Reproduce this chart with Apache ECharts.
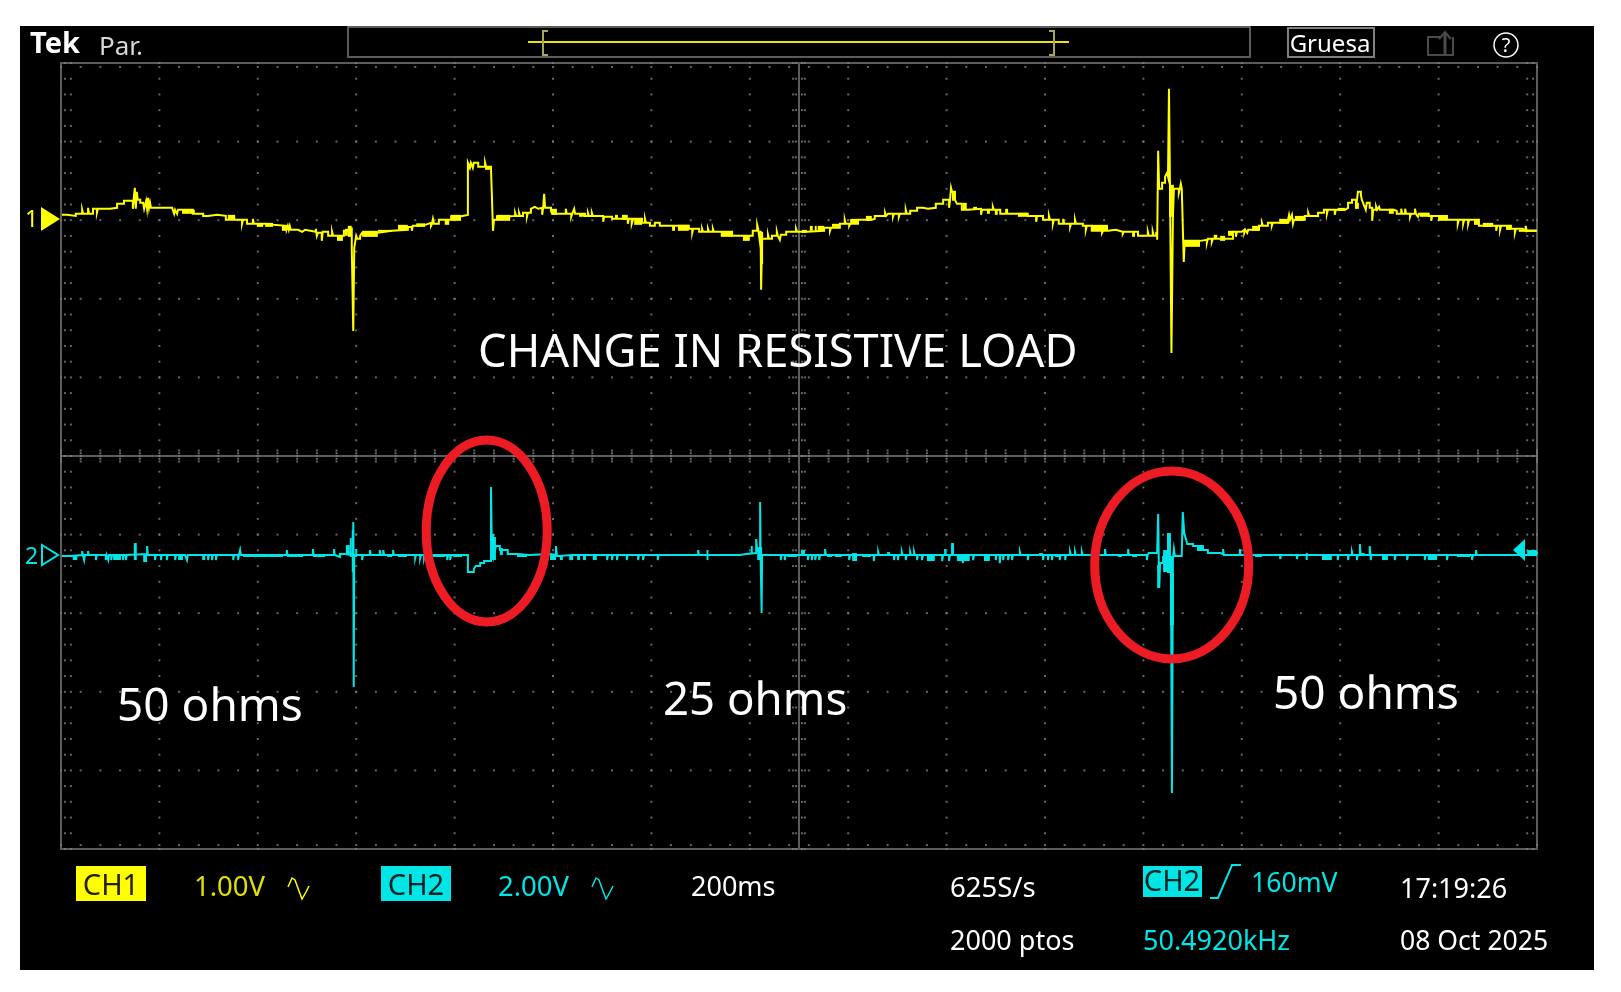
<!DOCTYPE html>
<html>
<head>
<meta charset="utf-8">
<title>Change in resistive load</title>
<script src="https://cdn.jsdelivr.net/npm/echarts@6/dist/echarts.min.js"></script>
<style>
  html, body { margin: 0; padding: 0; background: #fff; }
  #main { width: 1621px; height: 992px; }
</style>
</head>
<body>
<div id="main"></div>
<script>
// scope settings
const traceColor1 = '#ffff00';
const traceColor2 = '#00e5e5';
const gridColor = '#808080';
const msPerDiv = 200;
const voltsPerDiv1 = 1;
const voltsPerDiv2 = 2;
const xDivs = 15;
const yDivs = 10;
const subDivs = 5;

// CH1 [ms, volts], each value is held until the next point
const ch1Trace = [
  [2,.038],[12,.025],[30,.051],[43,.102],[45,.051],[55,.127],[57,.051],[65,.115],[73,.064],[75,.115],
  [100,.102],[102,.127],[114,.178],[128,.216],[146,.115],[148,.254],[150,.382],[152,.115],[154,.331],[156,.229],
  [161,.191],[167,.178],[169,.115],[173,.216],[175,.115],[177,.254],[179,.127],[181,.191],[183,.127],[203,.102],
  [207,.127],[226,.102],[228,.127],[230,.051],[232,.102],[236,.051],[238,.102],[268,.051],[289,.025],[299,.038],
  [317,.025],[335,-.025],[368,-.076],[370,-.025],[378,-.076],[390,-.013],[392,-.076],[415,-.089],[431,-.102],[459,-.14],
  [461,-.102],[463,-.153],[465,-.102],[467,-.153],[482,-.178],[490,-.153],[496,-.178],[518,-.14],[520,-.229],[522,-.191],
  [530,-.293],[532,-.178],[543,-.229],[551,-.178],[553,-.229],[575,-.165],[583,-.14],[591,-.382],[594,-1.438],[596,-.382],
  [600,-.229],[602,-.267],[608,-.229],[612,-.19],[644,-.165],[673,-.153],[705,-.115],[713,-.165],[715,-.102],[722,-.089],
  [740,-.064],[752,-.102],[754,-.076],[756,-.013],[758,-.076],[768,-.025],[780,-.025],[793,.02],[813,.038],[827,.7],
  [831,.636],[833,.7],[837,.636],[839,.7],[848,.649],[862,.7],[864,.649],[874,.611],[876,.242],[878,-.165],
  [880,-.025],[886,.02],[913,.025],[923,.064],[925,.025],[931,.064],[933,.025],[939,.064],[947,.013],[949,.064],
  [955,.115],[959,.14],[963,.115],[970,.127],[978,.038],[980,.127],[982,.305],[984,.127],[996,.089],[998,.051],
  [1026,.115],[1028,.051],[1037,.013],[1039,.051],[1043,.115],[1045,.051],[1065,.025],[1071,.064],[1073,.025],[1079,.064],
  [1081,.025],[1102,-.051],[1104,.013],[1120,-.013],[1152,-.076],[1154,-.013],[1160,-.076],[1163,-.013],[1181,-.064],[1187,-.013],
  [1189,-.064],[1197,-.102],[1207,-.064],[1217,-.102],[1276,-.14],[1283,-.191],[1285,-.14],[1297,-.178],[1303,-.14],[1305,-.178],
  [1315,-.14],[1317,-.178],[1325,-.14],[1327,-.178],[1364,-.229],[1400,-.229],[1406,-.165],[1415,-.089],[1417,-.14],[1420,-.28],
  [1422,-.165],[1423,-.916],[1425,-.267],[1437,-.216],[1439,-.267],[1445,-.229],[1455,-.178],[1457,-.229],[1461,-.28],[1463,-.216],
  [1474,-.178],[1494,-.14],[1496,-.178],[1516,-.165],[1551,-.127],[1563,-.165],[1565,-.127],[1583,-.076],[1593,-.025],[1595,-.076],
  [1602,-.102],[1604,-.076],[1620,-.025],[1648,-.013],[1654,.025],[1675,.064],[1677,.025],[1681,.051],[1691,.013],[1693,.051],
  [1703,.013],[1705,.051],[1717,.102],[1719,.051],[1726,.089],[1740,.127],[1752,.115],[1762,.127],[1778,.178],[1793,.229],
  [1799,.254],[1803,.229],[1805,.127],[1807,.229],[1809,.382],[1811,.331],[1817,.229],[1821,.178],[1831,.102],[1843,.115],
  [1870,.038],[1872,.102],[1888,.102],[1894,.14],[1896,.102],[1909,.051],[1965,.025],[1982,-.051],[1984,.025],[1996,-.025],
  [2008,.025],[2010,-.025],[2016,-.076],[2018,-.025],[2028,-.076],[2037,-.013],[2039,-.076],[2051,-.115],[2053,-.076],[2061,-.025],
  [2063,-.076],[2077,-.102],[2083,-.153],[2085,-.102],[2095,-.165],[2116,-.191],[2118,-.165],[2128,-.153],[2144,-.178],[2158,-.204],
  [2160,-.178],[2189,-.229],[2209,-.178],[2211,-.229],[2219,-.178],[2221,-.229],[2228,-.28],[2230,.852],[2232,.369],[2238,.445],
  [2244,.522],[2248,.573],[2250,.522],[2252,1.641],[2254,.42],[2257,-1.718],[2260,.013],[2262,.369],[2272,.318],[2274,.369],
  [2276,.433],[2278,.369],[2280,.356],[2282,-.56],[2284,-.293],[2315,-.28],[2329,-.318],[2331,-.267],[2339,-.305],[2341,-.267],
  [2382,-.178],[2388,-.242],[2390,-.178],[2400,-.153],[2405,-.191],[2407,-.153],[2411,-.191],[2413,-.153],[2435,-.102],[2441,-.064],
  [2443,-.102],[2453,-.064],[2461,-.102],[2463,-.064],[2494,-.025],[2496,.038],[2498,-.025],[2502,.038],[2504,-.076],[2506,-.025],
  [2528,.025],[2535,.064],[2537,.025],[2555,.064],[2567,.102],[2573,.051],[2575,.102],[2589,.038],[2591,.102],[2610,.127],
  [2616,.191],[2624,.229],[2632,.115],[2636,.331],[2642,.293],[2644,.229],[2648,.165],[2652,.102],[2654,.191],[2660,.127],
  [2665,-.038],[2667,.102],[2673,.14],[2675,.102],[2679,.14],[2681,.102],[2709,.089],[2715,.051],[2724,.115],[2726,.051],
  [2732,.115],[2734,.051],[2742,.013],[2744,.051],[2752,.115],[2754,.051],[2758,.013],[2760,.051],[2780,.025],[2785,-.038],
  [2787,.025],[2817,-.025],[2839,-.076],[2841,-.025],[2850,-.076],[2852,-.025],[2860,-.076],[2862,-.025],[2882,-.102],[2911,-.102],
  [2917,-.165],[2919,-.102],[2925,-.153],[2927,-.102],[2947,-.14],[2955,-.191],[2957,-.14],[2971,-.165],[2977,-.102],[2979,-.165],
  [3000,-.165]
];

// CH1 thick stretches where the trace toggles: [ms from, ms to, volts low, volts high]
const ch1Bands = [
  [246,262,.051,.102],[262,272,.051,.102],[339,354,-.025,.038],[398,411,-.115,-.076],[415,431,-.115,-.064],[449,459,-.165,-.102],
  [561,573,-.293,-.229],[577,583,-.229,-.14],[583,591,-.242,-.102],[612,644,-.242,-.165],[644,673,-.178,-.153],[685,705,-.153,-.089],
  [722,740,-.115,-.07],[780,789,-.089,-.025],[793,813,-.038,.038],[862,872,.611,.649],[886,913,-.038,.038],[998,1008,.038,.115],
  [1053,1065,.013,.051],[1126,1132,-.013,.038],[1140,1152,-.025,.038],[1165,1181,-.089,-.013],[1242,1248,-.165,-.102],[1254,1276,-.165,-.089],
  [1341,1364,-.242,-.178],[1386,1400,-.293,-.229],[1421,1427,-.585,-.178],[1506,1516,-.191,-.153],[1522,1528,-.165,-.102],[1532,1536,-.165,-.102],
  [1538,1551,-.165,-.102],[1567,1583,-.115,-.076],[1604,1618,-.076,-.013],[1636,1648,-.038,.025],[1811,1815,.216,.331],[1833,1841,.102,.191],
  [1854,1862,.102,.14],[1882,1888,.051,.115],[1898,1904,.038,.102],[1919,1925,.051,.115],[1945,1965,.013,.064],[2095,2128,-.165,-.089],
  [2177,2183,-.242,-.178],[2224,2228,-.229,-.178],[2252,2262,.013,.42],[2284,2315,-.369,-.293],[2343,2350,-.267,-.216],[2356,2366,-.293,-.229],
  [2372,2382,-.229,-.165],[2421,2435,-.165,-.102],[2476,2494,-.076,-.013],[2508,2527,-.038,.025],[2595,2610,.089,.127],[2632,2638,.115,.191],
  [2699,2709,.051,.115],[2762,2780,.013,.064],[2799,2817,-.038,.025],[2872,2882,-.089,-.025],[2890,2911,-.115,-.064],[2937,2947,-.153,-.102],
  [2963,2998,-.178,-.15]
];

// CH2 [ms, volts] main shape, flat at 0 between the events
const ch2Trace = [
  [2,-.025],[20,0],[134,.025],[177,0],[557,-.05],[567,.025],[575,0],[594,.84],[595,-3.359],[596,0],
  [815,0],[827,-.433],[839,-.356],[843,-.28],[852,-.204],[860,-.153],[874,1.73],[876,-.127],[878,.534],[880,0],
  [884,.229],[892,.127],[898,.127],[908,.025],[927,0],[953,.025],[994,0],[1006,.229],[1008,-.025],[1014,0],
  [1380,.025],[1392,.051],[1413,.407],[1415,.1],[1421,1.349],[1422,-.05],[1424,-1.476],[1425,0],[2211,.051],[2228,.102],
  [2230,1.043],[2232,-.84],[2234,-.2],[2240,-.05],[2256,-.5],[2258,-6.056],[2260,-.1],[2262,.153],[2264,-.025],[2278,.051],
  [2280,1.094],[2283,.56],[2287,.382],[2289,.28],[2301,.229],[2321,.127],[2331,.051],[2356,.025],[2423,0],[2980,.05],
  [3000,.076]
];

// CH2 single sample glitches off the flat line: [ms, volts]
const ch2Ticks = [
  [43,.1],[47,-.127],[55,.1],[71,-.127],[91,-.127],[96,-.127],[102,-.127],[126,-.127],[132,-.127],[175,.229],
  [191,-.127],[203,-.127],[215,-.127],[232,-.127],[252,.05],[256,-.127],[299,-.127],[307,-.127],[315,-.127],[350,-.127],
  [360,-.127],[364,.127],[459,.127],[512,.153],[555,.153],[612,-.127],[628,.127],[648,.127],[655,.127],[675,.127],
  [720,-.08],[730,-.08],[738,-.08],[785,-.127],[791,-.127],[1035,-.127],[1079,.05],[1102,.05],[1110,-.127],[1120,-.127],
  [1130,-.127],[1150,-.127],[1173,-.127],[1183,-.127],[1213,-.127],[1295,.127],[1463,-.127],[1471,-.127],[1518,-.127],[1526,-.127],
  [1533,-.127],[1541,-.127],[1553,.153],[1602,-.127],[1652,-.153],[1661,.076],[1693,-.127],[1701,-.127],[1709,.076],[1717,-.127],
  [1726,.076],[1734,.076],[1740,-.127],[1750,-.127],[1791,-.153],[1797,.153],[1805,-.153],[1833,-.204],[1854,-.127],[1900,-.127],
  [1908,-.204],[1915,-.127],[1925,-.127],[1933,-.127],[1949,.076],[1965,-.127],[1996,-.127],[2006,-.127],[2014,-.127],[2030,-.127],
  [2041,-.127],[2051,.076],[2061,.076],[2075,.076],[2122,.153],[2128,-.05],[2169,.153],[2207,-.127],[2362,.153],[2396,.153],
  [2478,-.1],[2512,-.1],[2595,-.127],[2616,-.127],[2624,.076],[2634,-.127],[2640,.28],[2660,.229],[2662,-.127],[2711,-.127],
  [2736,-.127],[2772,-.127],[2817,-.127],[2868,-.127],[2876,.127]
];

// CH2 thick stretches: [ms from, ms to, volts low, volts high]
const ch2Bands = [
  [24,33,-.127,0],[106,122,-.127,0],[148,154,-.127,.305],[167,175,-.178,0],[238,248,-.127,0],[287,293,-.127,0],
  [370,419,-.05,.025],[419,451,-.05,.025],[459,492,-.05,.025],[512,537,-.05,.025],[579,587,0,.254],[587,591,-.05,.433],
  [591,596,-.433,.636],[598,602,-.05,.153],[663,673,-.05,0],[685,703,-.05,.025],[756,781,-.05,.025],[797,815,-.05,.025],
  [874,884,-.127,.458],[892,898,0,.178],[927,947,-.05,0],[994,1006,-.127,0],[1014,1020,-.127,0],[1035,1041,-.127,0],
  [1049,1055,-.127,0],[1061,1067,-.127,0],[1081,1089,-.127,0],[1312,1316,-.127,.127],[1402,1406,.051,.229],[1415,1425,-.127,.2],
  [1476,1496,-.05,.025],[1504,1512,0,.127],[1557,1567,-.05,.025],[1573,1587,-.05,.025],[1608,1618,-.153,.051],[1628,1646,-.05,.025],
  [1679,1685,0,.076],[1760,1776,-.153,-.025],[1809,1815,0,.305],[1821,1847,-.153,-.025],[1876,1888,-.153,-.025],[1988,1996,0,.051],
  [2020,2030,-.05,.025],[2148,2156,-.05,.025],[2177,2187,-.05,0],[2228,2234,-.84,-.254],[2240,2248,-.433,.127],[2248,2256,-.458,.56],
  [2254,2262,-1.781,-.458],[2309,2321,.102,.229],[2427,2441,-.05,0],[2530,2534,-.127,.051],[2563,2583,-.127,-.025],[2642,2650,0,.051],
  [2685,2697,-.127,-.025],[2778,2797,-.127,-.025],[2837,2864,-.05,.025],[2980,3000,-.025,.127]
];

// glitches go back to the flat line on the next sample
function mergeTicks(trace, ticks) {
  let list = trace.slice();
  ticks.forEach(item => {
    list.push([item[0], item[1]]);
    list.push([item[0] + 1.6, 0]);
  });
  return list.sort((a, b) => a[0] - b[0]);
}

// graticule dots, in divisions
function graticule() {
  let dots = [];
  let i, k;
  for (i = 1; i < xDivs; i++) {
    for (k = 0; k <= yDivs * subDivs; k++) dots.push([i, k / subDivs]);
  }
  for (i = 1; i < yDivs; i++) {
    for (k = 0; k <= xDivs * subDivs; k++) dots.push([k / subDivs, i]);
  }
  // small marks along the edges and the centre cross
  for (k = 0; k <= xDivs * subDivs; k++) {
    [.05, yDivs - .05, yDivs / 2 - .07, yDivs / 2 - .035, yDivs / 2 + .035, yDivs / 2 + .07].forEach(y => dots.push([k / subDivs, y]));
  }
  for (k = 0; k <= yDivs * subDivs; k++) {
    [.04, .1, xDivs - .04, xDivs - .1, xDivs / 2 - .06, xDivs / 2 - .03, xDivs / 2 + .03, xDivs / 2 + .06].forEach(x => dots.push([x, k / subDivs]));
  }
  return dots;
}

function bandSeries(name, data, color, yAxisIndex) {
  return {
    name: name,
    type: 'custom',
    xAxisIndex: 0,
    yAxisIndex: yAxisIndex,
    silent: true,
    z: 4,
    data: data,
    encode: { x: [0, 1], y: [2, 3] },
    renderItem: function (params, api) {
      let p0 = api.coord([api.value(0), api.value(3)]);
      let p1 = api.coord([api.value(1), api.value(2)]);
      return {
        type: 'rect',
        shape: { x: p0[0], y: p0[1], width: p1[0] - p0[0], height: p1[1] - p0[1] },
        style: { fill: color }
      };
    }
  };
}

function traceSeries(name, data, color, width, yAxisIndex) {
  return {
    name: name,
    type: 'line',
    xAxisIndex: 0,
    yAxisIndex: yAxisIndex,
    step: 'end',
    showSymbol: false,
    silent: true,
    z: 5,
    lineStyle: { color: color, width: width, join: 'miter' },
    data: data
  };
}

// screen furniture
function label(text, x, y, fill, size, extra) {
  return {
    type: 'text',
    z: 20,
    style: Object.assign({
      x: x, y: y, text: text, fill: fill,
      font: size + 'px "Noto Sans"',
      textAlign: 'left', textVerticalAlign: 'middle'
    }, extra || {})
  };
}
function box(x, y, w, h, fill, stroke) {
  return {
    type: 'rect', z: 19,
    shape: { x: x, y: y, width: w, height: h },
    style: { fill: fill || 'transparent', stroke: stroke || null, lineWidth: stroke ? 2 : 0 }
  };
}
function path(points, stroke, lineWidth) {
  return { type: 'polyline', z: 19, shape: { points: points }, style: { stroke: stroke, fill: null, lineWidth: lineWidth || 2 } };
}
function sineIcon(x, y, color) {
  return path([[x, y + 9], [x + 4, y], [x + 7, y + 2], [x + 11, y + 13], [x + 14, y + 21], [x + 18, y + 14], [x + 21, y + 8]], color, 1.5);
}
function redRing(cx, cy, rx, ry) {
  return {
    type: 'ellipse', z: 18,
    shape: { cx: cx, cy: cy, rx: rx, ry: ry },
    style: { fill: 'transparent', stroke: '#ed1c24', lineWidth: 9 }
  };
}

const graphics = [
  // screen
  { type: 'rect', z: -10, shape: { x: 20, y: 26, width: 1574, height: 944 }, style: { fill: '#000' } },

  // header
  label('Tek', 30, 45, '#ffffff', 29, { font: 'bold 29px "Noto Sans"' }),
  label('Par.', 99, 48, '#d8d8d8', 26),
  box(348, 27, 902, 30, null, '#5c5c5c'),
  path([[528, 42], [1069, 42]], '#e6e600', 2),
  path([[548, 31], [543, 31], [543, 55], [548, 55]], '#a8a850', 2),
  path([[1049, 31], [1054, 31], [1054, 55], [1049, 55]], '#a8a850', 2),
  box(1288, 28, 86, 29, null, '#808080'),
  label('Gruesa', 1330, 45, '#ffffff', 24, { textAlign: 'center' }),
  path([[1440, 37], [1428, 37], [1428, 55], [1453, 55], [1453, 37]], '#4a4a4a', 2),
  path([[1445, 55], [1445, 33]], '#4a4a4a', 3),
  path([[1439, 39], [1445, 32], [1451, 39]], '#4a4a4a', 2),
  { type: 'circle', z: 19, shape: { cx: 1506, cy: 45, r: 12 }, style: { fill: 'transparent', stroke: '#fff', lineWidth: 1.5 } },
  label('?', 1506, 46, '#ffffff', 20, { textAlign: 'center' }),

  // channel markers
  label('1', 25, 220, traceColor1, 23),
  { type: 'polygon', z: 19, shape: { points: [[41, 207], [60, 219], [41, 231]] }, style: { fill: traceColor1 } },
  label('2', 25, 557, traceColor2, 23),
  { type: 'polygon', z: 19, shape: { points: [[42, 545], [58, 555], [42, 565]] }, style: { fill: 'transparent', stroke: traceColor2, lineWidth: 2 } },
  { type: 'polygon', z: 19, shape: { points: [[1513, 550], [1525, 539], [1525, 561]] }, style: { fill: traceColor2 } },

  // annotations
  label('CHANGE IN RESISTIVE LOAD', 478, 354, '#ffffff', 45.3),
  label('50 ohms', 117, 708, '#ffffff', 46),
  label('25 ohms', 663, 702, '#ffffff', 45.6),
  label('50 ohms', 1273, 696, '#ffffff', 46),
  redRing(486.7, 531, 60.5, 91),
  redRing(1171.7, 565, 77, 94),

  // status line
  box(76, 866, 70, 35, traceColor1),
  label('CH1', 111, 887, '#222200', 29, { textAlign: 'center' }),
  label('1.00V', 194, 888, '#e0e000', 27.5),
  sineIcon(288, 878, traceColor1),
  box(381, 866, 70, 35, traceColor2),
  label('CH2', 416, 887, '#002222', 29, { textAlign: 'center' }),
  label('2.00V', 498, 888, traceColor2, 27.5),
  sineIcon(592, 878, traceColor2),
  label('200ms', 691, 888, '#ffffff', 27),
  label('625S/s', 950, 889, '#ffffff', 27.5),
  label('2000 ptos', 950, 942, '#ffffff', 27),
  box(1143, 866, 59, 31, traceColor2),
  label('CH2', 1172, 883, '#002222', 29, { textAlign: 'center' }),
  path([[1210, 898], [1218, 898], [1232, 865], [1241, 865]], traceColor2, 2),
  label('160mV', 1251, 884, traceColor2, 26.6),
  label('50.4920kHz', 1143, 942, traceColor2, 27),
  label('17:19:26', 1400, 890, '#ffffff', 27),
  label('08 Oct 2025', 1400, 942, '#ffffff', 26.6)
];

// CH1 ground sits 1.97 div below the top, CH2 ground 6.26 div below the top
const ch1Max = 1.97 * voltsPerDiv1;
const ch2Max = 6.26 * voltsPerDiv2;

function hiddenAxis(min, max, extra) {
  return Object.assign({
    type: 'value', min: min, max: max, show: false, scale: false,
    axisLine: { show: false }, axisTick: { show: false }, axisLabel: { show: false }, splitLine: { show: false }
  }, extra || {});
}

let chart = echarts.init(document.getElementById('main'), null, { renderer: 'canvas' });
chart.setOption({
  animation: false,
  backgroundColor: '#ffffff',
  grid: { show: true, left: 61, top: 63, width: 1476, height: 786, borderColor: '#555555', borderWidth: 2, backgroundColor: 'transparent', containLabel: false },
  xAxis: [
    hiddenAxis(0, xDivs * msPerDiv),
    // divisions, used for the graticule and the centre cross
    { type: 'value', min: 0, max: xDivs, interval: xDivs / 2, position: 'top', axisLine: { show: false }, axisTick: { show: false }, axisLabel: { show: false }, splitLine: { show: true, lineStyle: { color: '#5c5c5c', width: 2 } } }
  ],
  yAxis: [
    hiddenAxis(ch1Max - yDivs * voltsPerDiv1, ch1Max),
    hiddenAxis(ch2Max - yDivs * voltsPerDiv2, ch2Max),
    { type: 'value', min: 0, max: yDivs, interval: yDivs / 2, axisLine: { show: false }, axisTick: { show: false }, axisLabel: { show: false }, splitLine: { show: true, lineStyle: { color: '#5c5c5c', width: 2 } } }
  ],
  graphic: graphics,
  series: [
    {
      name: 'graticule',
      type: 'scatter',
      xAxisIndex: 1,
      yAxisIndex: 2,
      symbol: 'rect',
      symbolSize: 2,
      silent: true,
      z: 1,
      itemStyle: { color: gridColor },
      data: graticule()
    },
    bandSeries('CH1 band', ch1Bands, traceColor1, 0),
    traceSeries('CH1', ch1Trace, traceColor1, 2, 0),
    bandSeries('CH2 band', ch2Bands, traceColor2, 1),
    traceSeries('CH2', mergeTicks(ch2Trace, ch2Ticks), traceColor2, 2, 1)
  ]
});
</script>
</body>
</html>
